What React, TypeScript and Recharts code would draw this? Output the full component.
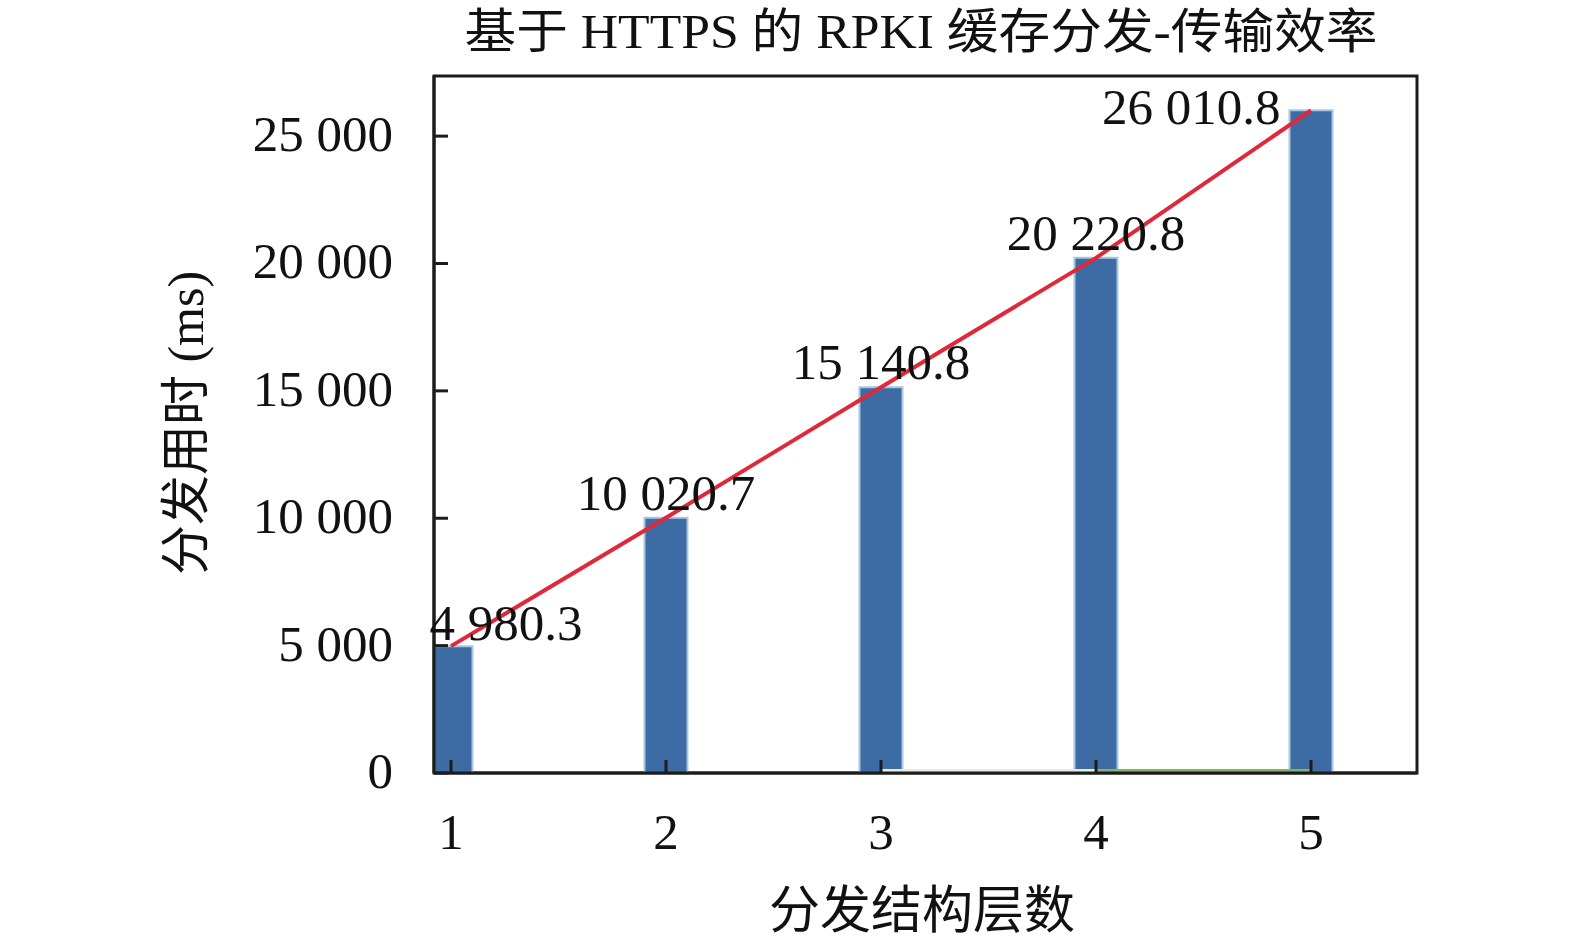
import React from 'react';
import {
  ComposedChart,
  Bar,
  Line,
  XAxis,
  YAxis,
  ReferenceArea,
  LabelList,
} from 'recharts';

// ---- data ----
const layerValues = [1, 2, 3, 4, 5];
const timeValues = [4980.3, 10020.7, 15140.8, 20220.8, 26010.8];
const paleBaseValues = [null, null, 100, 100, null];
const greenBaseValues = [null, null, null, 100, 100];
const yTicks = [0, 5000, 10000, 15000, 20000, 25000];

const titleText = '基于 HTTPS 的 RPKI 缓存分发-传输效率';
const xLabelText = '分发结构层数';
const yLabelText = '分发用时 (ms)';

const rows = layerValues.map((x, i) => ({
  x,
  ms: timeValues[i],
  pale: paleBaseValues[i],
  green: greenBaseValues[i],
}));

const X_DOMAIN: [number, number] = [0.921, 5.493];
const Y_MAX = 27360;
const FONT = "'Liberation Serif', 'Times New Roman', 'Noto Sans CJK SC', serif";
const AXIS_COLOR = '#1c1c1c';

const fmt = (v: number, decimals: number) => {
  const [i, d] = v.toFixed(decimals).split('.');
  const grouped = i.replace(/\B(?=(\d{3})+(?!\d))/g, ' ');
  return d ? `${grouped}.${d}` : grouped;
};

const XTick = (props: any) => {
  const { x, y, payload } = props;
  return (
    <g>
      <line x1={x} x2={x} y1={y} y2={y - 13} stroke={AXIS_COLOR} strokeWidth={3} />
      <text x={x} y={y + 76} textAnchor="middle" fontSize={51} fontFamily={FONT} fill="#111">
        {payload.value}
      </text>
    </g>
  );
};

const YTick = (props: any) => {
  const { x, y, payload } = props;
  return (
    <g>
      <line x1={x} x2={x + 14} y1={y} y2={y} stroke={AXIS_COLOR} strokeWidth={3} />
      <text x={x - 41} y={y + 15} textAnchor="end" fontSize={51} fontFamily={FONT} fill="#111">
        {fmt(payload.value, 0)}
      </text>
    </g>
  );
};

const BarValueLabel = (props: any) => {
  const { x, y, width, value, index } = props;
  const text = fmt(Number(value), 1);
  const last = index === timeValues.length - 1;
  let tx = x + width / 2;
  let ty = y - 8;
  let anchor: 'start' | 'middle' | 'end' = 'middle';
  if (index === 0) {
    tx = x;
    ty = y - 6;
    anchor = 'start';
  } else if (last) {
    tx = x - 9;
    ty = y + 14;
    anchor = 'end';
  }
  return (
    <text x={tx} y={ty} textAnchor={anchor} fontSize={51} fontFamily={FONT} fill="#111">
      {text}
    </text>
  );
};

export default function App() {
  return (
    <div style={{ position: 'absolute', left: 0, top: 0, width: 1575, height: 947, background: '#fff' }}>
      <ComposedChart
        width={1575}
        height={947}
        data={rows}
        margin={{ top: 76, right: 158, bottom: 114, left: 334 }}
      >
        <XAxis
          dataKey="x"
          type="number"
          domain={X_DOMAIN}
          ticks={layerValues}
          allowDataOverflow
          tickSize={0}
          tickMargin={0}
          tickLine={false}
          axisLine={{ stroke: AXIS_COLOR, strokeWidth: 3 }}
          height={60}
          tick={<XTick />}
        />
        <YAxis
          type="number"
          domain={[0, Y_MAX]}
          ticks={yTicks}
          allowDataOverflow
          tickSize={0}
          tickMargin={0}
          tickLine={false}
          axisLine={{ stroke: AXIS_COLOR, strokeWidth: 3 }}
          width={100}
          tick={<YTick />}
        />
        <Line
          dataKey="pale"
          stroke="#e6eedb"
          strokeWidth={3}
          dot={false}
          isAnimationActive={false}
        />
        <Line
          dataKey="green"
          stroke="#84b36c"
          strokeWidth={3}
          dot={false}
          isAnimationActive={false}
        />
        <Bar
          dataKey="ms"
          barSize={43}
          fill="#3d6ca4"
          stroke="#a9c6e0"
          strokeWidth={2}
          isAnimationActive={false}
        >
          <LabelList dataKey="ms" content={<BarValueLabel />} />
        </Bar>
        <Line
          dataKey="ms"
          stroke="#e0283a"
          strokeWidth={4}
          dot={false}
          isAnimationActive={false}
        />
        <ReferenceArea
          x1={X_DOMAIN[0]}
          x2={X_DOMAIN[1]}
          y1={0}
          y2={Y_MAX}
          fill="none"
          stroke={AXIS_COLOR}
          strokeWidth={3}
          ifOverflow="visible"
        />
      </ComposedChart>
      <svg
        width={1575}
        height={947}
        style={{ position: 'absolute', left: 0, top: 0, pointerEvents: 'none' }}
      >
        <text
          x={921}
          y={48}
          textAnchor="middle"
          fontSize={48}
          fontFamily={FONT}
          fill="#111"
          textLength={913}
          lengthAdjust="spacingAndGlyphs"
        >
          {titleText}
        </text>
        <text x={922} y={928} textAnchor="middle" fontSize={51} fontFamily={FONT} fill="#111">
          {xLabelText}
        </text>
        <text
          x={0}
          y={0}
          transform="translate(203, 423) rotate(-90)"
          textAnchor="middle"
          fontSize={50}
          fontFamily={FONT}
          fill="#111"
        >
          {yLabelText}
        </text>
      </svg>
    </div>
  );
}
